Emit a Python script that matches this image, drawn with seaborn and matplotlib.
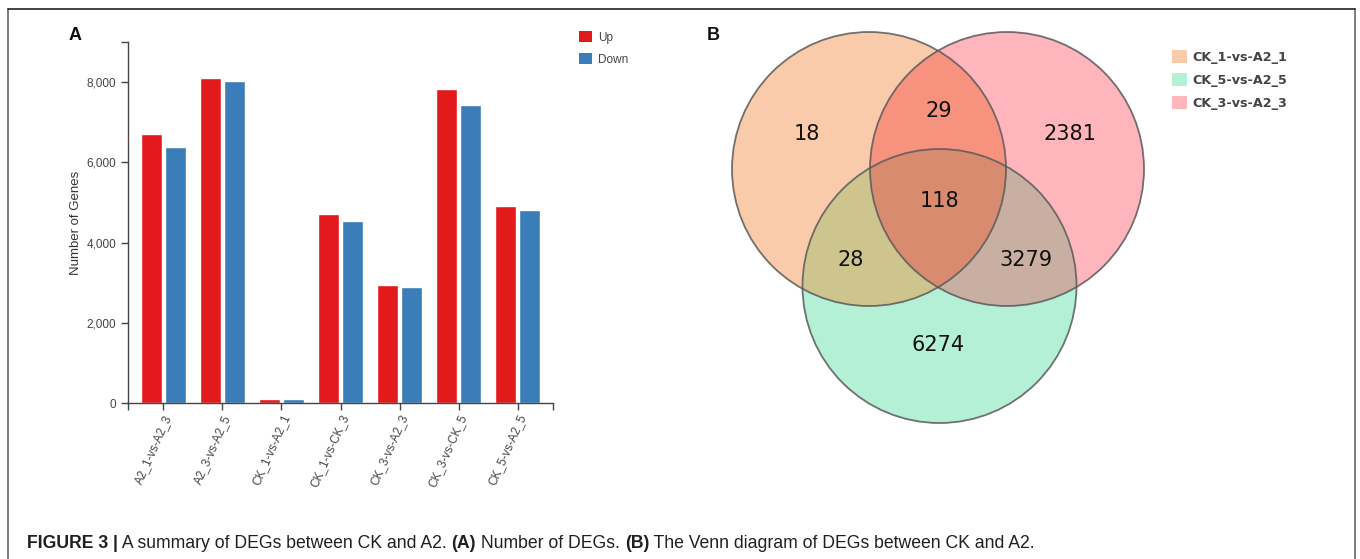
import numpy as np
import pandas as pd
import matplotlib
matplotlib.use("Agg")
import matplotlib.pyplot as plt
import seaborn as sns
from matplotlib.patches import Circle, Polygon, Patch
from matplotlib.lines import Line2D

# ---------------- data ----------------
comparisons = ["A2_1-vs-A2_3", "A2_3-vs-A2_5", "CK_1-vs-A2_1", "CK_1-vs-CK_3",
               "CK_3-vs-A2_3", "CK_3-vs-CK_5", "CK_5-vs-A2_5"]
up_counts = [6700, 8100, 110, 4700, 2940, 7830, 4910]
down_counts = [6370, 8020, 100, 4535, 2890, 7440, 4810]
directions = ["Up", "Down"]

venn_sets = ["CK_1-vs-A2_1", "CK_5-vs-A2_5", "CK_3-vs-A2_3"]
# region counts: only-1, only-3, only-5, 1&3, 1&5, 3&5, all three
venn_only_1 = 18
venn_only_3 = 2381
venn_only_5 = 6274
venn_1_3 = 29
venn_1_5 = 28
venn_3_5 = 3279
venn_all = 118

caption_parts = [("FIGURE 3 |", "bold"),
                 (" A summary of DEGs between CK and A2. ", "normal"),
                 ("(A)", "bold"),
                 (" Number of DEGs. ", "normal"),
                 ("(B)", "bold"),
                 (" The Venn diagram of DEGs between CK and A2.", "normal")]

# ---------------- figure ----------------
W, H = 1360, 559
sns.set_theme(style="white")
plt.rcParams["font.family"] = ["Liberation Sans", "DejaVu Sans"]
fig = plt.figure(figsize=(W / 100, H / 100), dpi=100)
fig.patch.set_facecolor("white")


def fx(px):
    return px / W


def fy(py):
    return 1 - py / H


# ---------------- panel A: bar chart ----------------
RED = "#E31A1C"
BLUE = "#3A7DB9"
ax = fig.add_axes([fx(128), fy(403), fx(553) - fx(128), fy(42) - fy(403)])
df = pd.DataFrame({
    "comparison": comparisons * 2,
    "direction": [directions[0]] * len(comparisons) + [directions[1]] * len(comparisons),
    "count": up_counts + down_counts,
})
sns.barplot(data=df, x="comparison", y="count", hue="direction",
            hue_order=directions, palette=[RED, BLUE], width=0.8, gap=0.1,
            saturation=1, ax=ax, legend=False)
pad = 0.6
ax.set_xlim(-pad, len(comparisons) - 1 + pad)
ax.set_ylim(0, 9000)
ax.set_yticks([0, 2000, 4000, 6000, 8000])
ax.set_yticklabels([f"{v:,}" for v in [0, 2000, 4000, 6000, 8000]])
ax.set_yticks([9000], minor=True)
ax.set_xticks([-pad, len(comparisons) - 1 + pad], minor=True)
ax.set_xlabel("")
ax.set_ylabel("Number of Genes", fontsize=9.5, color="#333333", labelpad=3)
for s in ["top", "right"]:
    ax.spines[s].set_visible(False)
for s in ["left", "bottom"]:
    ax.spines[s].set_color("#444444")
    ax.spines[s].set_linewidth(1.0)
ax.tick_params(axis="both", which="both", direction="out", length=5, width=1,
               color="#444444", labelsize=8.5, labelcolor="#444444",
               bottom=True, left=True)
ax.tick_params(axis="x", pad=2, labelsize=8.5)
plt.setp(ax.get_xticklabels(), rotation=66, ha="right", va="top",
         rotation_mode="anchor")
ax.set_facecolor("white")

bar_handles = [Patch(facecolor=RED, edgecolor="none"),
               Patch(facecolor=BLUE, edgecolor="none")]
fig.legend(bar_handles, directions, loc="upper left",
           bbox_to_anchor=(fx(579), fy(31)), bbox_transform=fig.transFigure,
           frameon=False, fontsize=8.5, handlelength=1.1, handleheight=1.1,
           handletextpad=0.5, labelspacing=0.8, borderpad=0, borderaxespad=0,
           labelcolor="#444444")

fig.text(fx(75), fy(35), "A", fontsize=13, fontweight="bold", color="#111111",
         ha="center", va="center")

# ---------------- panel B: Venn diagram ----------------
x0, x1, y0, y1 = 700, 1160, 20, 440
ax2 = fig.add_axes([fx(x0), fy(y1), fx(x1) - fx(x0), fy(y0) - fy(y1)])
ax2.set_xlim(x0, x1)
ax2.set_ylim(y1, y0)
ax2.axis("off")

R = 137
cL = (869.0, 169.0)   # CK_1-vs-A2_1
cR = (1007.0, 169.0)  # CK_3-vs-A2_3
cB = (939.5, 286.0)   # CK_5-vs-A2_5

C_1 = "#F9CBAA"
C_5 = "#B4F0D6"
C_3 = "#FEB6BC"
C_13 = "#F7927F"
C_15 = "#CEC48E"
C_35 = "#C9AFA2"
C_ALL = "#D98B70"


def circ(c, **kw):
    return Circle(c, R, transform=ax2.transData, **kw)


for c, col in [(cL, C_1), (cR, C_3), (cB, C_5)]:
    ax2.add_patch(circ(c, facecolor=col, edgecolor="none"))

clipL = circ(cL, facecolor="none")
clipR = circ(cR, facecolor="none")

p = ax2.add_patch(circ(cR, facecolor=C_13, edgecolor="none"))
p.set_clip_path(clipL)
p = ax2.add_patch(circ(cB, facecolor=C_15, edgecolor="none"))
p.set_clip_path(clipL)
p = ax2.add_patch(circ(cB, facecolor=C_35, edgecolor="none"))
p.set_clip_path(clipR)

# lens shared by the two upper circles
d = cR[0] - cL[0]
th = np.arctan2(np.sqrt(R ** 2 - (d / 2) ** 2), d / 2)
a1 = np.linspace(-th, th, 120)
a2 = np.linspace(np.pi - th, np.pi + th, 120)
lens = np.vstack([
    np.column_stack([cL[0] + R * np.cos(a1), cL[1] + R * np.sin(a1)]),
    np.column_stack([cR[0] + R * np.cos(a2), cR[1] + R * np.sin(a2)]),
])
lens_patch = Polygon(lens, closed=True, transform=ax2.transData)
p = ax2.add_patch(circ(cB, facecolor=C_ALL, edgecolor="none"))
p.set_clip_path(lens_patch)

for c in [cL, cR, cB]:
    ax2.add_patch(circ(c, facecolor="none", edgecolor="#5a5a5a", lw=1.3,
                       alpha=0.85))

venn_labels = [
    (venn_only_1, 806.7, 134.3),
    (venn_1_3, 939.0, 110.7),
    (venn_only_3, 1070.0, 134.3),
    (venn_all, 939.3, 201.0),
    (venn_1_5, 851.0, 260.0),
    (venn_3_5, 1025.7, 260.0),
    (venn_only_5, 937.7, 345.0),
]
for val, lx, ly in venn_labels:
    ax2.text(lx, ly, str(val), fontsize=15, color="#111111", ha="center",
             va="center", family="DejaVu Sans")

venn_handles = [Patch(facecolor=C_1, edgecolor="none"),
                Patch(facecolor=C_5, edgecolor="none"),
                Patch(facecolor=C_3, edgecolor="none")]
fig.legend(venn_handles, venn_sets, loc="upper left",
           bbox_to_anchor=(fx(1172), fy(50)), bbox_transform=fig.transFigure,
           frameon=False, prop={"family": "DejaVu Sans", "weight": "bold",
                                "size": 9.2},
           handlelength=1.2, handleheight=1.2, handletextpad=0.4,
           labelspacing=0.72, borderpad=0, borderaxespad=0,
           labelcolor="#444444")

fig.text(fx(713), fy(35), "B", fontsize=13, fontweight="bold", color="#111111",
         ha="center", va="center")

# ---------------- frame and caption ----------------
fig.add_artist(Line2D([fx(8), fx(8)], [fy(9), 0], transform=fig.transFigure,
                      color="#666666", lw=1.2))
fig.add_artist(Line2D([fx(1355), fx(1355)], [fy(9), 0], transform=fig.transFigure,
                      color="#666666", lw=1.2))
fig.add_artist(Line2D([fx(8), fx(1355)], [fy(9), fy(9)], transform=fig.transFigure,
                      color="#222222", lw=1.2))

renderer = fig.canvas.get_renderer()
cx = fx(27)
for txt, wt in caption_parts:
    t = fig.text(cx, fy(543), txt, fontsize=12.7, fontweight=wt,
                 color="#231F20", ha="left", va="center",
                 family=["Liberation Sans Narrow", "Liberation Sans"])
    bb = t.get_window_extent(renderer)
    cx = bb.x1 / W

fig.savefig("out.png", dpi=100, facecolor="white")
